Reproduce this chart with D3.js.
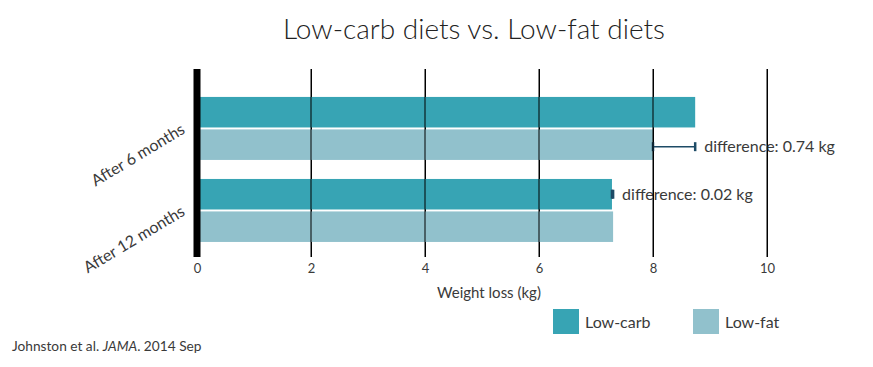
<!DOCTYPE html>
<html>
<head>
<meta charset="utf-8">
<script src="https://cdn.jsdelivr.net/npm/d3@7"></script>
<style>
  body { margin: 0; background: #fff; }
  svg text { font-family: Lato, "Open Sans", sans-serif; fill: #3a3a3a; }
</style>
</head>
<body>
<svg id="chart" width="873" height="367"></svg>
<script>
// data
const periods = ['After 6 months', 'After 12 months'];
const diets = ['Low-carb', 'Low-fat'];
const lowCarb = [8.74, 7.28];
const lowFat = [8.00, 7.30];
const diffLabels = ['difference: 0.74 kg', 'difference: 0.02 kg'];
const ticks = [0, 2, 4, 6, 8, 10];
const colors = ['#37a4b4', '#91c1cc'];

const svg = d3.select('#chart');
const margin = {top: 69, bottom: 110, left: 197, right: 106};
const width = 873, height = 367;

const x = d3.scaleLinear()
    .domain([0, 10])
    .range([margin.left, width - margin.right]);

const y = d3.scaleBand()
    .domain(periods)
    .range([margin.top, height - margin.bottom])
    .paddingInner(0.232)
    .paddingOuter(0.262)
    .align(0.65);

const sub = d3.scaleBand()
    .domain(diets)
    .range([0, y.bandwidth()])
    .paddingInner(0.06);

const color = d3.scaleOrdinal().domain(diets).range(colors);

// title
svg.append('text')
    .attr('x', 474).attr('y', 39)
    .attr('text-anchor', 'middle')
    .style('font-size', '28px')
    .style('font-weight', 300)
    .style('fill', '#222')
    .text('Low-carb diets vs. Low-fat diets');

// grid lines via axis
const xAxis = svg.append('g')
    .attr('transform', `translate(0, ${height - margin.bottom})`)
    .call(d3.axisBottom(x).tickValues(ticks).tickFormat(d3.format('d'))
        .tickSize(-(height - margin.bottom - margin.top)).tickPadding(7));
xAxis.select('.domain').remove();
xAxis.selectAll('.tick line').attr('stroke', '#000');
xAxis.selectAll('.tick text')
    .style('font-size', '13px')
    .style('font-family', 'Lato, sans-serif')
    .style('fill', '#3a3a3a');

svg.append('text')
    .attr('x', 489).attr('y', 298)
    .attr('text-anchor', 'middle')
    .style('font-size', '15px')
    .text('Weight loss (kg)');

// bars
const rows = periods.map((p, i) => ({period: p, values: [lowCarb[i], lowFat[i]], label: diffLabels[i]}));

const groups = svg.append('g').selectAll('g')
    .data(rows)
    .join('g')
    .attr('transform', d => `translate(0, ${y(d.period)})`);

groups.selectAll('rect')
    .data(d => d.values.map((v, j) => ({diet: diets[j], value: v})))
    .join('rect')
    .attr('x', x(0))
    .attr('y', d => sub(d.diet))
    .attr('width', d => x(d.value) - x(0))
    .attr('height', sub.bandwidth())
    .attr('fill', d => color(d.diet));

// redraw grid lines over the bars
svg.append('g').selectAll('line')
    .data(ticks.filter(t => t > 0))
    .join('line')
    .attr('x1', d => x(d)).attr('x2', d => x(d))
    .attr('y1', margin.top).attr('y2', height - margin.bottom)
    .attr('stroke', '#000');

// thick zero axis
svg.append('line')
    .attr('x1', x(0)).attr('x2', x(0))
    .attr('y1', margin.top).attr('y2', height - margin.bottom)
    .attr('stroke', '#000')
    .attr('stroke-width', 7);

// difference markers, drawn on the row of the shorter bar
const diffColor = '#1d4b66';
groups.each(function (d) {
    const g = d3.select(this);
    const lo = Math.min(...d.values), hi = Math.max(...d.values);
    const j = d.values.indexOf(lo);
    const cy = sub(diets[j]) + sub.bandwidth() / 2 + (j === 1 ? 2 : 0);
    g.append('line')
        .attr('x1', x(lo)).attr('x2', x(hi))
        .attr('y1', cy).attr('y2', cy)
        .attr('stroke', diffColor).attr('stroke-width', 1.5);
    [lo, hi].forEach(v => g.append('line')
        .attr('x1', x(v)).attr('x2', x(v))
        .attr('y1', cy - 4.5).attr('y2', cy + 4.5)
        .attr('stroke', diffColor).attr('stroke-width', 2.5));
    g.append('text')
        .attr('x', x(hi) + 9)
        .attr('y', cy)
        .attr('dy', '0.35em')
        .style('font-size', '16px')
        .text(d.label);
});

// category labels
svg.append('g').selectAll('text')
    .data(periods)
    .join('text')
    .attr('transform', d => `translate(186, ${y(d) + y.bandwidth() / 2 + 4}) rotate(-31)`)
    .attr('text-anchor', 'end')
    .style('font-size', '16px')
    .text(d => d);

// legend
const legend = svg.append('g').selectAll('g')
    .data(diets)
    .join('g')
    .attr('transform', (d, i) => `translate(${553 + i * 140}, 309)`);
legend.append('rect')
    .attr('width', 26).attr('height', 25)
    .attr('fill', d => color(d));
legend.append('text')
    .attr('x', 32).attr('y', 19)
    .style('font-size', '16px')
    .text(d => d);

// source
const src = svg.append('text')
    .attr('x', 12).attr('y', 351)
    .style('font-size', '13.7px');
src.append('tspan').text('Johnston et al. ');
src.append('tspan').style('font-style', 'italic').text('JAMA');
src.append('tspan').text('. 2014 Sep');
</script>
</body>
</html>
